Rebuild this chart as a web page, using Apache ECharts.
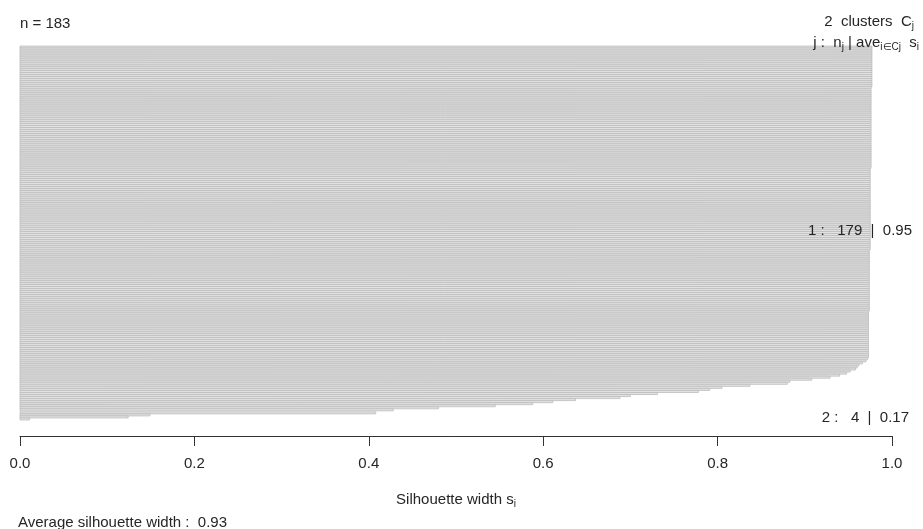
<!DOCTYPE html>
<html>
<head>
<meta charset="utf-8">
<script src="https://cdn.jsdelivr.net/npm/echarts@6/dist/echarts.min.js"></script>
<style>html,body{margin:0;padding:0;background:#fff}#c{width:923px;height:529px}</style>
</head>
<body>
<div id="c"></div>
<script>
// Silhouette widths, cluster 1 (sorted, top to bottom)
const cluster1Values = [
0.977,0.977,0.977,0.977,0.977,0.977,0.977,0.977,0.977,0.977,
0.977,0.977,0.977,0.977,0.977,0.977,0.977,0.977,0.977,0.977,
0.976,0.976,0.976,0.976,0.976,0.976,0.976,0.976,0.976,0.976,
0.976,0.976,0.976,0.976,0.976,0.976,0.976,0.976,0.976,0.976,
0.976,0.976,0.976,0.976,0.976,0.976,0.976,0.976,0.976,0.976,
0.976,0.976,0.976,0.976,0.976,0.976,0.976,0.976,0.976,0.976,
0.975,0.975,0.975,0.975,0.975,0.975,0.975,0.975,0.975,0.975,
0.975,0.975,0.975,0.975,0.975,0.975,0.975,0.975,0.975,0.975,
0.975,0.975,0.975,0.975,0.975,0.975,0.975,0.975,0.975,0.975,
0.975,0.975,0.975,0.975,0.975,0.975,0.975,0.975,0.975,0.975,
0.974,0.974,0.974,0.974,0.974,0.974,0.974,0.974,0.974,0.974,
0.974,0.974,0.974,0.974,0.974,0.974,0.974,0.974,0.974,0.974,
0.974,0.974,0.974,0.974,0.974,0.974,0.974,0.974,0.974,0.974,
0.973,0.973,0.973,0.973,0.973,0.973,0.973,0.973,0.973,0.973,
0.973,0.973,0.973,0.973,0.973,0.973,0.973,0.973,0.973,0.973,
0.973,0.973,0.973,
0.972,0.970,0.966,0.962,0.960,0.958,0.952,0.948,0.940,0.929,
0.908,0.883,0.880,0.837,0.805,0.791,0.778,0.731,0.700,0.688,
0.637,0.611,0.588,0.545,0.480,0.428
];
// Silhouette widths, cluster 2
const cluster2Values = [0.408, 0.149, 0.124, 0.011];
const clusterLabels = ['1 :   179  |  0.95', '2 :   4  |  0.17'];
const xTicks = [0, 0.2, 0.4, 0.6, 0.8, 1.0];
const nLabel = 'n = 183';
const avgLabel = 'Average silhouette width :  0.93';

const GAP = 0.5;
const data = [];
cluster1Values.forEach((v, i) => data.push([v, i]));
cluster2Values.forEach((v, i) => data.push([v, cluster1Values.length + GAP + i]));
const total = cluster1Values.length + GAP + cluster2Values.length;

const FONT = 'Liberation Sans, Arial, sans-serif';
const TXT = '#262626';
const chart = echarts.init(document.getElementById('c'));
const option = {
  animation: false,
  backgroundColor: '#fff',
  grid: {left: 20, right: 31, top: 46, height: 374},
  xAxis: {
    type: 'value', min: xTicks[0], max: xTicks[xTicks.length - 1], interval: 0.2, offset: 16,
    axisLine: {show: true, onZero: false, lineStyle: {color: '#333', width: 1}},
    axisTick: {show: true, length: 10, lineStyle: {color: '#333'}},
    axisLabel: {margin: 20, fontFamily: FONT, fontSize: 15, color: TXT,
      formatter: v => v.toFixed(1)},
    splitLine: {show: false}
  },
  yAxis: {type: 'value', inverse: true, min: 0, max: total, show: false},
  series: [{
    type: 'custom',
    data: data,
    encode: {x: 0, y: 1},
    renderItem: function (params, api) {
      const v = api.value(0), p = api.value(1);
      const a = api.coord([0, p]);
      const b = api.coord([v, p + 1]);
      return {type: 'rect',
        shape: {x: a[0], y: a[1], width: b[0] - a[0], height: b[1] - a[1]},
        style: {fill: '#e2e2e2', stroke: '#bcbcbc', lineWidth: 0.8}};
    }
  }],
  graphic: []
};
chart.setOption(option);

const c1mid = chart.convertToPixel({gridIndex: 0}, [0, cluster1Values.length / 2])[1];
const c2mid = chart.convertToPixel({gridIndex: 0}, [0, cluster1Values.length + GAP + cluster2Values.length / 2])[1];
const rich = {
  m: {fontFamily: FONT, fontSize: 15, color: TXT, lineHeight: 18},
  s: {fontFamily: FONT, fontSize: 10, color: TXT, lineHeight: 18, padding: [9, 0, 0, 0]}
};
function rt(x, y, text, align) {
  return {type: 'text', x: x, y: y, z: 100, style: {text: text, rich: rich, align: align, verticalAlign: 'middle',
    fontFamily: FONT, fontSize: 15, fill: TXT}};
}
chart.setOption({graphic: [
  rt(20, 24, '{m|' + nLabel + '}', 'left'),
  rt(914, 22, '{m|2  clusters  C}{s|j}', 'right'),
  rt(919, 43, '{m|j :  n}{s|j}{m| | ave}{s|i\u2208Cj}{m|  s}{s|i}', 'right'),
  rt(912, c1mid + 2, '{m|' + clusterLabels[0] + '}', 'right'),
  rt(909, c2mid + 2, '{m|' + clusterLabels[1] + '}', 'right'),
  rt(456, 500, '{m|Silhouette width s}{s|i}', 'center'),
  rt(18, 523, '{m|' + avgLabel + '}', 'left')
]});
</script>
</body>
</html>
